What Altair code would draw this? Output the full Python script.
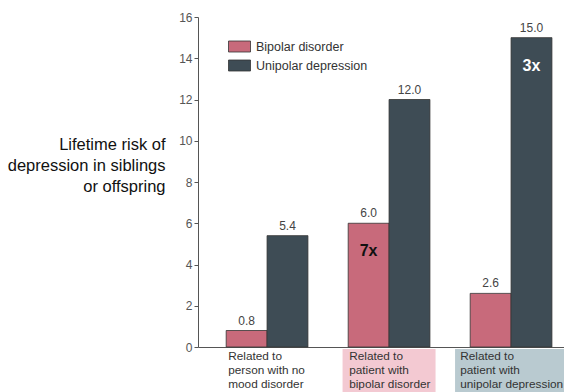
import altair as alt
import pandas as pd

# Lifetime risk (%) of depression among siblings/offspring, by relative's diagnosis
groups = ["none", "bipolar", "unipolar"]
group_labels = [
    "Related to\nperson with no\nmood disorder",
    "Related to\npatient with\nbipolar disorder",
    "Related to\npatient with\nunipolar depression",
]
series = ["Bipolar disorder", "Unipolar depression"]
bipolar_risk = [0.8, 6.0, 2.6]
unipolar_risk = [5.4, 12.0, 15.0]

# fold-increase callouts drawn inside selected bars
ratio_groups = ["bipolar", "unipolar"]
ratio_series = ["Bipolar disorder", "Unipolar depression"]
ratio_values = [6.0, 15.0]
ratio_text = ["7x", "3x"]

y_ticks = list(range(0, 17, 2))

FONT = "Liberation Sans"

bars_df = pd.DataFrame(
    {
        "group": groups * 2,
        "series": [series[0]] * 3 + [series[1]] * 3,
        "risk": bipolar_risk + unipolar_risk,
    }
)
groups_df = pd.DataFrame({"group": groups, "label": group_labels})
ratio_df = pd.DataFrame(
    {"group": ratio_groups, "series": ratio_series, "risk": ratio_values, "text": ratio_text}
)

x_scale = alt.Scale(paddingInner=0.33, paddingOuter=0.165, align=0.7)
x_enc = alt.X(
    "group:N",
    sort=groups,
    scale=x_scale,
    axis=alt.Axis(title=None, labels=False, ticks=False, domainColor="#555", domainWidth=1),
)
x_plain = alt.X("group:N", sort=groups)
xoff_enc = alt.XOffset("series:N", sort=series, scale=alt.Scale(paddingInner=0, paddingOuter=0))
y_enc = alt.Y(
    "risk:Q",
    scale=alt.Scale(domain=[0, 16], nice=False),
    axis=alt.Axis(
        values=y_ticks,
        grid=False,
        tickSize=4,
        tickColor="#555",
        domainColor="#555",
        labelColor="#555",
        labelFontSize=12,
        labelPadding=2,
        title=["Lifetime risk of", "depression in siblings", "or offspring"],
        titleAngle=0,
        titleAlign="right",
        titleBaseline="top",
        titleX=-33,
        titleY=119,
        titleFontSize=16.5,
        titleFontWeight="normal",
        titleColor="#111",
        titleLineHeight=21,
    ),
)

# shaded backgrounds behind two of the category captions
box_bipolar = (
    alt.Chart(groups_df)
    .transform_filter(alt.datum.group == "bipolar")
    .mark_bar(width=93, color="#f3c9d2")
    .encode(x=x_plain, y=alt.value(332), y2=alt.value(376))
)
box_unipolar = (
    alt.Chart(groups_df)
    .transform_filter(alt.datum.group == "unipolar")
    .mark_bar(width=110, color="#b9cad0", xOffset=-1)
    .encode(x=x_plain, y=alt.value(332), y2=alt.value(376))
)

bars = (
    alt.Chart(bars_df)
    .mark_bar(stroke="#333", strokeWidth=0.8)
    .encode(
        x=x_enc,
        xOffset=xoff_enc,
        y=y_enc,
        color=alt.Color(
            "series:N",
            scale=alt.Scale(domain=series, range=["#c86a7b", "#3e4c55"]),
            legend=alt.Legend(
                title=None,
                orient="none",
                legendX=30,
                legendY=18,
                symbolType="M-1,-0.5H1V0.5H-1Z",
                symbolSize=484,
                symbolStrokeColor="#333",
                symbolStrokeWidth=0.8,
                symbolOpacity=1,
                labelFontSize=12.5,
                labelColor="#333",
                labelOffset=5,
                rowPadding=-5,
            ),
        ),
    )
)

values = (
    alt.Chart(bars_df)
    .mark_text(baseline="bottom", dy=-3, fontSize=12, color="#444")
    .encode(x=x_plain, xOffset=xoff_enc, y=alt.Y("risk:Q"), text=alt.Text("risk:Q", format=".1f"))
)

ratios = (
    alt.Chart(ratio_df)
    .mark_text(baseline="middle", dy=28, fontSize=16, fontWeight="bold")
    .encode(
        x=x_plain,
        xOffset=xoff_enc,
        y=alt.Y("risk:Q"),
        text="text:N",
        color=alt.condition(
            alt.datum.series == "Bipolar disorder", alt.value("#111"), alt.value("white")
        ),
    )
)


def caption(group, dx):
    return (
        alt.Chart(groups_df)
        .transform_filter(alt.datum.group == group)
        .mark_text(
            align="left",
            baseline="top",
            lineBreak="\n",
            fontSize=11.8,
            lineHeight=14,
            color="#333",
            dx=dx,
        )
        .encode(x=alt.X("group:N", sort=groups, bandPosition=0), y=alt.value(334), text="label:N")
    )


chart = (
    alt.layer(
        box_bipolar,
        box_unipolar,
        bars,
        values,
        ratios,
        caption("none", 2),
        caption("bipolar", 1),
        caption("unipolar", -10),
    )
    .properties(
        width=366,
        height=330,
        autosize=alt.AutoSizeParams(type="none"),
        padding={"left": 198, "top": 17, "right": 0, "bottom": 45},
        background="white",
    )
    .configure(font=FONT)
    .configure_view(stroke=None)
)

chart.save("out.html", embed_options={"renderer": "svg", "actions": False})
